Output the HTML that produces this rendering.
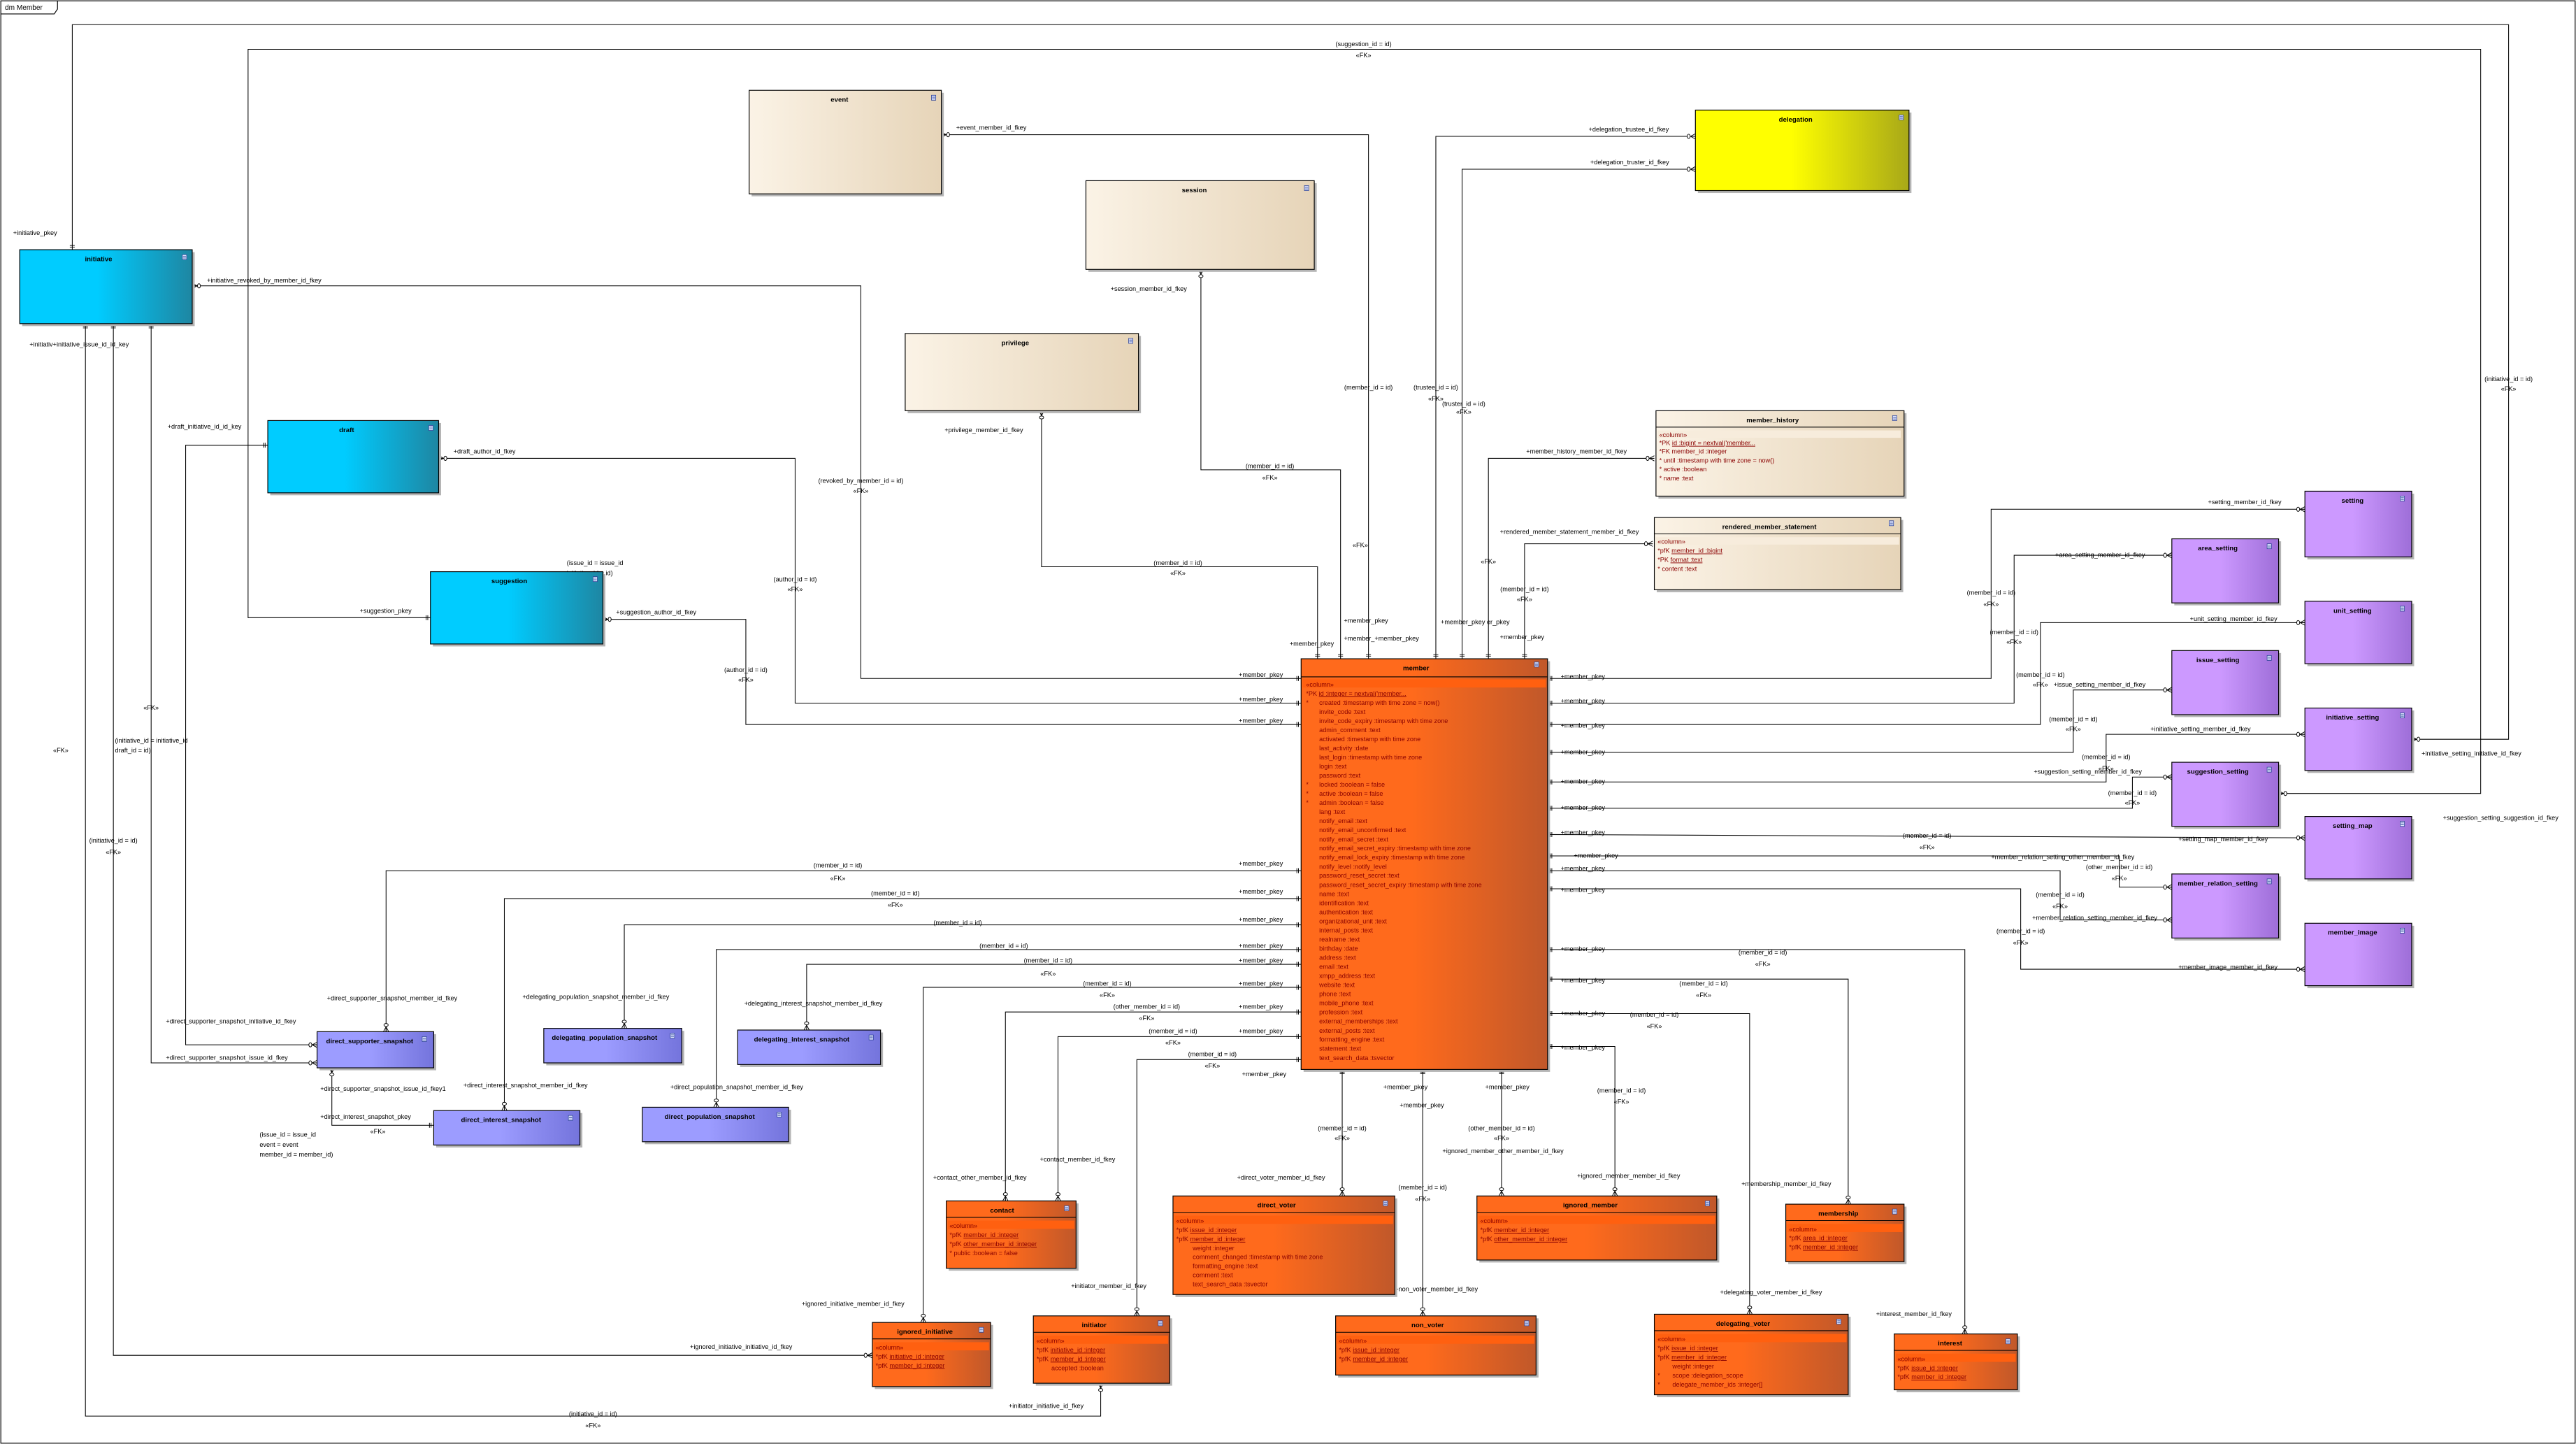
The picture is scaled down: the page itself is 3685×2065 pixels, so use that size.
<!DOCTYPE html>
<html><head><meta charset="utf-8"><style>
html,body{margin:0;padding:0;background:#fff;}
svg{display:block;}
text{font-family:"Liberation Sans",sans-serif;font-size:3.9px;fill:#000;}
.t{font-weight:bold;font-size:4.1px;text-anchor:middle;}
.r{fill:#8a0000;font-size:3.9px;}
.m{text-anchor:middle;}
.c{fill:none;stroke:#000;stroke-width:0.45;marker-start:url(#one);marker-end:url(#many);}
.n{fill:none;stroke:#000;stroke-width:0.45;}
.sh{fill:#b5b5b5;}
.bx{stroke:#000;stroke-width:0.5;}
</style></head><body>
<svg width="3685" height="2065" viewBox="0 0 3685 2065" xmlns="http://www.w3.org/2000/svg">
<defs>
<linearGradient id="gBlue" x1="0" x2="1"><stop offset="0.45" stop-color="#00ccff"/><stop offset="1" stop-color="#1e86a2"/></linearGradient>
<linearGradient id="gLav" x1="0" x2="1"><stop offset="0.45" stop-color="#9c9cff"/><stop offset="1" stop-color="#7474dc"/></linearGradient>
<linearGradient id="gPur" x1="0" x2="1"><stop offset="0.45" stop-color="#cc99ff"/><stop offset="1" stop-color="#9e6ed8"/></linearGradient>
<linearGradient id="gOr" x1="0" x2="1"><stop offset="0.45" stop-color="#ff6a1c"/><stop offset="1" stop-color="#c0582a"/></linearGradient>
<linearGradient id="gBe" x1="0" x2="1"><stop offset="0" stop-color="#fbf3e6"/><stop offset="1" stop-color="#e6d4b8"/></linearGradient>
<linearGradient id="gYe" x1="0" x2="1"><stop offset="0.45" stop-color="#ffff00"/><stop offset="1" stop-color="#a8a818"/></linearGradient>
<marker id="many" markerUnits="userSpaceOnUse" viewBox="-6 -3 7 6" refX="0" refY="0" markerWidth="7" markerHeight="6" orient="auto">
<path d="M-3,0 L0,-1.6 M-3,0 L0,1.6 M-3,0 L0,0" stroke="#000" stroke-width="0.4" fill="none"/>
<ellipse cx="-4.1" cy="0" rx="0.9" ry="1.3" fill="#fff" stroke="#000" stroke-width="0.4"/>
</marker>
<marker id="one" markerUnits="userSpaceOnUse" viewBox="-1 -3 6 6" refX="0" refY="0" markerWidth="6" markerHeight="6" orient="auto">
<path d="M1.6,-1.5 L1.6,1.5 M2.6,-1.5 L2.6,1.5" stroke="#000" stroke-width="0.4"/>
</marker>
<g id="ic"><rect x="0" y="0" width="2.6" height="3" fill="#dfe6ff" stroke="#33489a" stroke-width="0.35"/><path d="M0.4,0.9H2.2M0.4,1.5H2.2M0.4,2.1H2.2" stroke="#33489a" stroke-width="0.25"/></g>
</defs>
<g transform="scale(2.3501,2.3493)">
<!-- frame -->
<rect x="0.5" y="0.5" width="1567" height="878" fill="none" stroke="#000" stroke-width="0.5"/>
<path d="M0.5,8.5 L33,8.5 L35,5.5 L35,0.5" fill="none" stroke="#000" stroke-width="0.5"/>
<text x="3" y="6" style="font-size:4.3px">dm Member</text>

<!-- connectors -->
<path class="c" d="M44,152 L44,15 L1527,15 L1527,450 L1468,450"/>
<path class="c" d="M262,376 L151,376 L151,30 L1510,30 L1510,483 L1387,483"/>
<path class="c" d="M792,413 L524,413 L524,174 L117,174"/>
<path class="c" d="M792,428 L484,428 L484,279 L267,279"/>
<path class="c" d="M792,441 L454,441 L454,377 L367,377"/>
<path class="c" d="M792,530 L235,530 L235,628"/>
<path class="c" d="M792,547 L307,547 L307,676"/>
<path class="c" d="M792,563 L380,563 L380,626"/>
<path class="c" d="M792,578 L436,578 L436,674"/>
<path class="c" d="M792,587 L491,587 L491,627"/>
<path class="c" d="M792,601 L562,601 L562,805"/>
<path class="c" d="M792,616 L612,616 L612,731"/>
<path class="c" d="M792,631 L644,631 L644,731"/>
<path class="c" d="M792,645 L692,645 L692,801"/>
<path class="c" d="M833,401 L833,82 L573,82"/>
<path class="c" d="M816,401 L816,286 L731,286 L731,164"/>
<path class="c" d="M802,401 L802,345 L634,345 L634,250"/>
<path class="c" d="M874,401 L874,83 L1032,83"/>
<path class="c" d="M890,401 L890,103 L1032,103"/>
<path class="c" d="M906,401 L906,279 L1007,279"/>
<path class="c" d="M928,401 L928,331 L1006,331"/>
<path class="c" d="M942,413 L1212,413 L1212,310 L1403,310"/>
<path class="c" d="M942,428 L1226,428 L1226,338 L1322,338"/>
<path class="c" d="M942,441 L1242,441 L1242,379 L1403,379"/>
<path class="c" d="M942,458 L1262,458 L1262,420 L1322,420"/>
<path class="c" d="M942,476 L1282,476 L1282,447 L1403,447"/>
<path class="c" d="M942,492 L1298,492 L1298,473 L1322,473"/>
<path class="c" d="M942,508 L1403,510"/>
<path class="c" d="M942,521 L1290,521 L1290,540 L1322,540"/>
<path class="c" d="M942,530 L1254,530 L1254,560 L1322,560"/>
<path class="c" d="M942,541 L1230,541 L1230,590 L1403,590"/>
<path class="c" d="M942,578 L1196,578 L1196,812"/>
<path class="c" d="M942,596 L1125,596 L1125,733"/>
<path class="c" d="M942,617 L1065,617 L1065,800"/>
<path class="c" d="M942,637 L983,637 L983,728"/>
<path class="c" d="M817,651 L817,728"/>
<path class="c" d="M866,651 L866,801"/>
<path class="c" d="M914,651 L914,728"/>
<path class="c" d="M52,197 L52,862 L670,862 L670,842"/>
<path class="c" d="M69,197 L69,825 L531,825"/>
<path class="c" d="M92,197 L92,647 L193,647"/>
<path class="c" d="M163,271 L113,271 L113,636 L193,636"/>
<path class="c" d="M264,685 L202,685 L202,650"/>

<!-- connector labels -->
<g>
<text x="830" y="28" class="m">(suggestion_id = id)</text><text x="830" y="35" class="m">«FK»</text>
<text x="8" y="143">+initiative_pkey</text>
<text x="126" y="172">+initiative_revoked_by_member_id_fkey</text>
<text x="18" y="211">+initiativ+initiative_issue_id_id_key</text>
<text x="102" y="261">+draft_initiative_id_id_key</text>
<text x="276" y="276">+draft_author_id_fkey</text>
<text x="219" y="373">+suggestion_pkey</text>
<text x="375" y="374">+suggestion_author_id_fkey</text>
<text x="345" y="344">(issue_id = issue_id</text><text x="345" y="350">initiative_id = id)</text>
<text x="524" y="294" class="m">(revoked_by_member_id = id)</text><text x="524" y="300" class="m">«FK»</text>
<text x="484" y="354" class="m">(author_id = id)</text><text x="484" y="360" class="m">«FK»</text>
<text x="454" y="409" class="m">(author_id = id)</text><text x="454" y="415" class="m">«FK»</text>
<text x="92" y="432" class="m">«FK»</text>
<text x="37" y="458" class="m">«FK»</text>
<text x="70" y="452">(initiative_id = initiative_id</text><text x="70" y="458">draft_id = id)</text>
<text x="69" y="513" class="m">(initiative_id = id)</text><text x="69" y="520" class="m">«FK»</text>
<text x="582" y="79">+event_member_id_fkey</text>
<text x="676" y="177">+session_member_id_fkey</text>
<text x="575" y="263">+privilege_member_id_fkey</text>
<text x="833" y="237" class="m">(member_id = id)</text><text x="828" y="333" class="m">«FK»</text>
<text x="773" y="285" class="m">(member_id = id)</text><text x="773" y="292" class="m">«FK»</text>
<text x="717" y="344" class="m">(member_id = id)</text><text x="717" y="350" class="m">«FK»</text>
<text x="874" y="237" class="m">(trustee_id = id)</text><text x="874" y="244" class="m">«FK»</text>
<text x="891" y="247" class="m">(truster_id = id)</text><text x="891" y="252" class="m">«FK»</text>
<text x="967" y="80">+delegation_trustee_id_fkey</text>
<text x="968" y="100">+delegation_truster_id_fkey</text>
<text x="929" y="276">+member_history_member_id_fkey</text>
<text x="913" y="325">+rendered_member_statement_member_id_fkey</text>
<text x="906" y="343" class="m">«FK»</text>
<text x="928" y="360" class="m">(member_id = id)</text><text x="928" y="366" class="m">«FK»</text>
<text x="818" y="379">+member_pkey</text><text x="785" y="393">+member_pkey</text><text x="818" y="390">+member_+member_pkey</text>
<text x="877" y="380">+member_pkey er_pkey</text><text x="913" y="389">+member_pkey</text>
<text x="754" y="412">+member_pkey</text><text x="754" y="427">+member_pkey</text><text x="754" y="440">+member_pkey</text>
<text x="754" y="527">+member_pkey</text><text x="754" y="544">+member_pkey</text><text x="754" y="561">+member_pkey</text>
<text x="754" y="577">+member_pkey</text><text x="754" y="586">+member_pkey</text><text x="754" y="600">+member_pkey</text>
<text x="754" y="614">+member_pkey</text><text x="754" y="629">+member_pkey</text><text x="756" y="655">+member_pkey</text>
<text x="510" y="528" class="m">(member_id = id)</text><text x="510" y="536" class="m">«FK»</text>
<text x="545" y="545" class="m">(member_id = id)</text><text x="545" y="552" class="m">«FK»</text>
<text x="583" y="563" class="m">(member_id = id)</text><text x="611" y="577" class="m">(member_id = id)</text>
<text x="638" y="586" class="m">(member_id = id)</text><text x="638" y="594" class="m">«FK»</text>
<text x="674" y="600" class="m">(member_id = id)</text><text x="674" y="607" class="m">«FK»</text>
<text x="698" y="614" class="m">(other_member_id = id)</text><text x="698" y="621" class="m">«FK»</text>
<text x="714" y="629" class="m">(member_id = id)</text><text x="714" y="636" class="m">«FK»</text>
<text x="738" y="643" class="m">(member_id = id)</text><text x="738" y="650" class="m">«FK»</text>
<text x="199" y="609">+direct_supporter_snapshot_member_id_fkey</text>
<text x="101" y="623">+direct_supporter_snapshot_initiative_id_fkey</text>
<text x="101" y="645">+direct_supporter_snapshot_issue_id_fkey</text>
<text x="195" y="664">+direct_supporter_snapshot_issue_id_fkey1</text>
<text x="282" y="662">+direct_interest_snapshot_member_id_fkey</text>
<text x="195" y="681">+direct_interest_snapshot_pkey</text>
<text x="230" y="690" class="m">«FK»</text>
<text x="158" y="692">(issue_id = issue_id</text><text x="158" y="698">event = event</text><text x="158" y="704">member_id = member_id)</text>
<text x="318" y="608">+delegating_population_snapshot_member_id_fkey</text>
<text x="453" y="612">+delegating_interest_snapshot_member_id_fkey</text>
<text x="408" y="663">+direct_population_snapshot_member_id_fkey</text>
<text x="568" y="718">+contact_other_member_id_fkey</text>
<text x="633" y="707">+contact_member_id_fkey</text>
<text x="488" y="795">+ignored_initiative_member_id_fkey</text>
<text x="420" y="821">+ignored_initiative_initiative_id_fkey</text>
<text x="652" y="784">+initiator_member_id_fkey</text>
<text x="614" y="857">+initiator_initiative_id_fkey</text>
<text x="361" y="862" class="m">(initiative_id = id)</text><text x="361" y="869" class="m">«FK»</text>
<text x="753" y="718">+direct_voter_member_id_fkey</text>
<text x="817" y="688" class="m">(member_id = id)</text><text x="817" y="694" class="m">«FK»</text>
<text x="866" y="724" class="m">(member_id = id)</text><text x="866" y="731" class="m">«FK»</text>
<text x="849" y="786">+non_voter_member_id_fkey</text>
<text x="914" y="688" class="m">(other_member_id = id)</text><text x="914" y="694" class="m">«FK»</text>
<text x="878" y="702">+ignored_member_other_member_id_fkey</text>
<text x="960" y="717">+ignored_member_member_id_fkey</text>
<text x="987" y="665" class="m">(member_id = id)</text><text x="987" y="672" class="m">«FK»</text>
<text x="1007" y="619" class="m">(member_id = id)</text><text x="1007" y="626" class="m">«FK»</text>
<text x="1037" y="600" class="m">(member_id = id)</text><text x="1037" y="607" class="m">«FK»</text>
<text x="1073" y="581" class="m">(member_id = id)</text><text x="1073" y="588" class="m">«FK»</text>
<text x="1060" y="722">+membership_member_id_fkey</text>
<text x="1047" y="788">+delegating_voter_member_id_fkey</text>
<text x="1142" y="801">+interest_member_id_fkey</text>
<text x="950" y="413">+member_pkey</text><text x="950" y="428">+member_pkey</text><text x="950" y="443">+member_pkey</text>
<text x="950" y="459">+member_pkey</text><text x="950" y="477">+member_pkey</text><text x="950" y="493">+member_pkey</text>
<text x="950" y="508">+member_pkey</text><text x="958" y="522">+member_pkey</text><text x="950" y="530">+member_pkey</text>
<text x="950" y="543">+member_pkey</text><text x="950" y="579">+member_pkey</text><text x="950" y="598">+member_pkey</text>
<text x="950" y="618">+member_pkey</text><text x="950" y="639">+member_pkey</text>
<text x="842" y="663">+member_pkey</text><text x="852" y="674">+member_pkey</text><text x="904" y="663">+member_pkey</text>
<text x="871" y="493">(member_id = id)</text>
<text x="1344" y="307">+setting_member_id_fkey</text>
<text x="1251" y="339">+area_setting_member_id_fkey</text>
<text x="1333" y="378">+unit_setting_member_id_fkey</text>
<text x="1250" y="418">+issue_setting_member_id_fkey</text>
<text x="1309" y="445">+initiative_setting_member_id_fkey</text>
<text x="1238" y="471">+suggestion_setting_member_id_fkey</text>
<text x="1326" y="512">+setting_map_member_id_fkey</text>
<text x="1212" y="523">+member_relation_setting_other_member_id_fkey</text>
<text x="1237" y="560">+member_relation_setting_member_id_fkey</text>
<text x="1326" y="590">+member_image_member_id_fkey</text>
<text x="1474" y="460">+initiative_setting_initiative_id_fkey</text>
<text x="1487" y="499">+suggestion_setting_suggestion_id_fkey</text>
<text x="1527" y="232" class="m">(initiative_id = id)</text><text x="1527" y="238" class="m">«FK»</text>
<text x="1212" y="362" class="m">(member_id = id)</text><text x="1212" y="369" class="m">«FK»</text>
<text x="1226" y="386" class="m">(member_id = id)</text><text x="1226" y="392" class="m">«FK»</text>
<text x="1242" y="412" class="m">(member_id = id)</text><text x="1242" y="418" class="m">«FK»</text>
<text x="1262" y="439" class="m">(member_id = id)</text><text x="1262" y="445" class="m">«FK»</text>
<text x="1282" y="462" class="m">(member_id = id)</text><text x="1282" y="469" class="m">«FK»</text>
<text x="1298" y="484" class="m">(member_id = id)</text><text x="1298" y="490" class="m">«FK»</text>
<text x="1173" y="510" class="m">(member_id = id)</text><text x="1173" y="517" class="m">«FK»</text>
<text x="1290" y="529" class="m">(other_member_id = id)</text><text x="1290" y="536" class="m">«FK»</text>
<text x="1254" y="546" class="m">(member_id = id)</text><text x="1254" y="553" class="m">«FK»</text>
<text x="1230" y="568" class="m">(member_id = id)</text><text x="1230" y="575" class="m">«FK»</text>
</g>

<!-- boxes: blue -->
<rect class="sh" x="13.5" y="153.5" width="105" height="45"/><rect class="bx" x="12" y="152" width="105" height="45" fill="url(#gBlue)"/><text class="t" x="60" y="159">initiative</text><use href="#ic" x="111" y="155"/>
<rect class="sh" x="164.5" y="257.5" width="104" height="44"/><rect class="bx" x="163" y="256" width="104" height="44" fill="url(#gBlue)"/><text class="t" x="211" y="263">draft</text><use href="#ic" x="261" y="259"/>
<rect class="sh" x="263.5" y="349.5" width="105" height="44"/><rect class="bx" x="262" y="348" width="105" height="44" fill="url(#gBlue)"/><text class="t" x="310" y="355">suggestion</text><use href="#ic" x="361" y="351"/>

<!-- beige -->
<rect class="sh" x="457.5" y="56.5" width="117" height="63"/><rect class="bx" x="456" y="55" width="117" height="63" fill="url(#gBe)"/><text class="t" x="511" y="62">event</text><use href="#ic" x="567" y="58"/>
<rect class="sh" x="662.5" y="111.5" width="139" height="54"/><rect class="bx" x="661" y="110" width="139" height="54" fill="url(#gBe)"/><text class="t" x="727" y="117">session</text><use href="#ic" x="794" y="113"/>
<rect class="sh" x="552.5" y="204.5" width="142" height="47"/><rect class="bx" x="551" y="203" width="142" height="47" fill="url(#gBe)"/><text class="t" x="618" y="210">privilege</text><use href="#ic" x="687" y="206"/>
<rect class="sh" x="1033.5" y="68.5" width="130" height="49"/><rect class="bx" x="1032" y="67" width="130" height="49" fill="url(#gYe)"/><text class="t" x="1093" y="74">delegation</text><use href="#ic" x="1156" y="70"/>

<!-- member_history -->
<rect class="sh" x="1009.5" y="251.5" width="151" height="52"/><rect class="bx" x="1008" y="250" width="151" height="52" fill="url(#gBe)"/>
<text class="t" x="1079" y="257">member_history</text><use href="#ic" x="1152" y="253"/><line x1="1008" y1="260" x2="1159" y2="260" stroke="#000" stroke-width="0.45"/>
<rect x="1009" y="262" width="148" height="4.5" fill="#f7ecdc"/>
<text class="r" x="1010" y="266">«column»</text>
<text class="r" x="1010" y="271">*PK  <tspan text-decoration="underline">id  :bigint = nextval('member...</tspan></text>
<text class="r" x="1010" y="276">*FK  member_id  :integer</text>
<text class="r" x="1010" y="281.5">*       until  :timestamp with time zone = now()</text>
<text class="r" x="1010" y="287">*       active  :boolean</text>
<text class="r" x="1010" y="292.5">*       name  :text</text>
<!-- rms -->
<rect class="sh" x="1008.5" y="316.5" width="150" height="44"/><rect class="bx" x="1007" y="315" width="150" height="44" fill="url(#gBe)"/>
<text class="t" x="1077" y="322">rendered_member_statement</text><use href="#ic" x="1150" y="317"/><line x1="1007" y1="325" x2="1157" y2="325" stroke="#000" stroke-width="0.45"/>
<rect x="1008" y="327" width="148" height="4.5" fill="#f7ecdc"/>
<text class="r" x="1009" y="331">«column»</text>
<text class="r" x="1009" y="336.5">*pfK <tspan text-decoration="underline">member_id  :bigint</tspan></text>
<text class="r" x="1009" y="342">*PK  <tspan text-decoration="underline">format  :text</tspan></text>
<text class="r" x="1009" y="347.5">*       content  :text</text>

<!-- member -->
<rect class="sh" x="793.5" y="402.5" width="150" height="250"/><rect class="bx" x="792" y="401" width="150" height="250" fill="url(#gOr)"/>
<text class="t" x="862" y="408">member</text><use href="#ic" x="934" y="403"/><line x1="792" y1="412" x2="942" y2="412" stroke="#000" stroke-width="0.5"/>
<rect x="793" y="413.5" width="148" height="5" fill="#ff6010"/>
<g class="r">
<text class="r" x="795" y="418">«column»</text>
<text class="r" x="795" y="423.5">*PK  <tspan text-decoration="underline">id  :integer = nextval('member...</tspan></text>
<text class="r" x="795" y="429">*</text><text class="r" x="803" y="429">created  :timestamp with time zone = now()</text>
<text class="r" x="803" y="434.6">invite_code  :text</text>
<text class="r" x="803" y="440.1">invite_code_expiry  :timestamp with time zone</text>
<text class="r" x="803" y="445.6">admin_comment  :text</text>
<text class="r" x="803" y="451.2">activated  :timestamp with time zone</text>
<text class="r" x="803" y="456.7">last_activity  :date</text>
<text class="r" x="803" y="462.3">last_login  :timestamp with time zone</text>
<text class="r" x="803" y="467.8">login  :text</text>
<text class="r" x="803" y="473.4">password  :text</text>
<text class="r" x="795" y="478.9">*</text><text class="r" x="803" y="478.9">locked  :boolean = false</text>
<text class="r" x="795" y="484.4">*</text><text class="r" x="803" y="484.4">active  :boolean = false</text>
<text class="r" x="795" y="490">*</text><text class="r" x="803" y="490">admin  :boolean = false</text>
<text class="r" x="803" y="495.5">lang  :text</text>
<text class="r" x="803" y="501.1">notify_email  :text</text>
<text class="r" x="803" y="506.6">notify_email_unconfirmed  :text</text>
<text class="r" x="803" y="512.2">notify_email_secret  :text</text>
<text class="r" x="803" y="517.7">notify_email_secret_expiry  :timestamp with time zone</text>
<text class="r" x="803" y="523.2">notify_email_lock_expiry  :timestamp with time zone</text>
<text class="r" x="803" y="528.8">notify_level  :notify_level</text>
<text class="r" x="803" y="534.3">password_reset_secret  :text</text>
<text class="r" x="803" y="539.9">password_reset_secret_expiry  :timestamp with time zone</text>
<text class="r" x="803" y="545.4">name  :text</text>
<text class="r" x="803" y="551">identification  :text</text>
<text class="r" x="803" y="556.5">authentication  :text</text>
<text class="r" x="803" y="562">organizational_unit  :text</text>
<text class="r" x="803" y="567.6">internal_posts  :text</text>
<text class="r" x="803" y="573.1">realname  :text</text>
<text class="r" x="803" y="578.7">birthday  :date</text>
<text class="r" x="803" y="584.2">address  :text</text>
<text class="r" x="803" y="589.8">email  :text</text>
<text class="r" x="803" y="595.3">xmpp_address  :text</text>
<text class="r" x="803" y="600.8">website  :text</text>
<text class="r" x="803" y="606.4">phone  :text</text>
<text class="r" x="803" y="611.9">mobile_phone  :text</text>
<text class="r" x="803" y="617.5">profession  :text</text>
<text class="r" x="803" y="623">external_memberships  :text</text>
<text class="r" x="803" y="628.6">external_posts  :text</text>
<text class="r" x="803" y="634.1">formatting_engine  :text</text>
<text class="r" x="803" y="639.6">statement  :text</text>
<text class="r" x="803" y="645.2">text_search_data  :tsvector</text>
</g>

<!-- lavender -->
<rect class="sh" x="194.5" y="629.5" width="71" height="22"/><rect class="bx" x="193" y="628" width="71" height="22" fill="url(#gLav)"/><text class="t" x="225" y="635">direct_supporter_snapshot</text><use href="#ic" x="257" y="631"/>
<rect class="sh" x="332.5" y="627.5" width="84" height="21"/><rect class="bx" x="331" y="626" width="84" height="21" fill="url(#gLav)"/><text class="t" x="368" y="633">delegating_population_snapshot</text><use href="#ic" x="408" y="629"/>
<rect class="sh" x="450.5" y="628.5" width="87" height="21"/><rect class="bx" x="449" y="627" width="87" height="21" fill="url(#gLav)"/><text class="t" x="488" y="634">delegating_interest_snapshot</text><use href="#ic" x="529" y="630"/>
<rect class="sh" x="265.5" y="677.5" width="89" height="21"/><rect class="bx" x="264" y="676" width="89" height="21" fill="url(#gLav)"/><text class="t" x="305" y="683">direct_interest_snapshot</text><use href="#ic" x="346" y="679"/>
<rect class="sh" x="392.5" y="675.5" width="89" height="21"/><rect class="bx" x="391" y="674" width="89" height="21" fill="url(#gLav)"/><text class="t" x="432" y="681">direct_population_snapshot</text><use href="#ic" x="473" y="677"/>

<!-- purple -->
<rect class="sh" x="1404.5" y="300.5" width="65" height="40"/><rect class="bx" x="1403" y="299" width="65" height="40" fill="url(#gPur)"/><text class="t" x="1432" y="306">setting</text><use href="#ic" x="1461" y="302"/>
<rect class="sh" x="1323.5" y="329.5" width="65" height="39"/><rect class="bx" x="1322" y="328" width="65" height="39" fill="url(#gPur)"/><text class="t" x="1350" y="335">area_setting</text><use href="#ic" x="1380" y="331"/>
<rect class="sh" x="1404.5" y="367.5" width="65" height="38"/><rect class="bx" x="1403" y="366" width="65" height="38" fill="url(#gPur)"/><text class="t" x="1432" y="373">unit_setting</text><use href="#ic" x="1461" y="369"/>
<rect class="sh" x="1323.5" y="397.5" width="65" height="39"/><rect class="bx" x="1322" y="396" width="65" height="39" fill="url(#gPur)"/><text class="t" x="1350" y="403">issue_setting</text><use href="#ic" x="1380" y="399"/>
<rect class="sh" x="1404.5" y="432.5" width="65" height="38"/><rect class="bx" x="1403" y="431" width="65" height="38" fill="url(#gPur)"/><text class="t" x="1432" y="438">initiative_setting</text><use href="#ic" x="1461" y="434"/>
<rect class="sh" x="1323.5" y="465.5" width="65" height="39"/><rect class="bx" x="1322" y="464" width="65" height="39" fill="url(#gPur)"/><text class="t" x="1350" y="471">suggestion_setting</text><use href="#ic" x="1380" y="467"/>
<rect class="sh" x="1404.5" y="498.5" width="65" height="38"/><rect class="bx" x="1403" y="497" width="65" height="38" fill="url(#gPur)"/><text class="t" x="1432" y="504">setting_map</text><use href="#ic" x="1461" y="500"/>
<rect class="sh" x="1323.5" y="533.5" width="65" height="39"/><rect class="bx" x="1322" y="532" width="65" height="39" fill="url(#gPur)"/><text class="t" x="1350" y="539">member_relation_setting</text><use href="#ic" x="1380" y="535"/>
<rect class="sh" x="1404.5" y="563.5" width="65" height="38"/><rect class="bx" x="1403" y="562" width="65" height="38" fill="url(#gPur)"/><text class="t" x="1432" y="569">member_image</text><use href="#ic" x="1461" y="565"/>

<!-- orange small tables -->
<g>
<rect class="sh" x="577.5" y="732.5" width="79" height="41"/><rect class="bx" x="576" y="731" width="79" height="41" fill="url(#gOr)"/><text class="t" x="610" y="738">contact</text><use href="#ic" x="648" y="734"/><line x1="576" y1="741" x2="655" y2="741" stroke="#000" stroke-width="0.45"/>
<rect x="577" y="743" width="77" height="5" fill="#ff6010"/>
<text class="r" x="578" y="747.5">«column»</text><text class="r" x="578" y="753">*pfK <tspan text-decoration="underline">member_id  :integer</tspan></text><text class="r" x="578" y="758.5">*pfK <tspan text-decoration="underline">other_member_id  :integer</tspan></text><text class="r" x="578" y="764">*       public  :boolean = false</text>

<rect class="sh" x="715.5" y="729.5" width="135" height="60"/><rect class="bx" x="714" y="728" width="135" height="60" fill="url(#gOr)"/><text class="t" x="777" y="735">direct_voter</text><use href="#ic" x="842" y="731"/><line x1="714" y1="738" x2="849" y2="738" stroke="#000" stroke-width="0.45"/>
<rect x="715" y="740" width="133" height="5" fill="#ff6010"/>
<text class="r" x="716" y="744.5">«column»</text><text class="r" x="716" y="750">*pfK <tspan text-decoration="underline">issue_id  :integer</tspan></text><text class="r" x="716" y="755.5">*pfK <tspan text-decoration="underline">member_id  :integer</tspan></text>
<text class="r" x="726" y="761">weight  :integer</text><text class="r" x="726" y="766.5">comment_changed  :timestamp with time zone</text><text class="r" x="726" y="772">formatting_engine  :text</text><text class="r" x="726" y="777.5">comment  :text</text><text class="r" x="726" y="783">text_search_data  :tsvector</text>

<rect class="sh" x="900.5" y="729.5" width="146" height="39"/><rect class="bx" x="899" y="728" width="146" height="39" fill="url(#gOr)"/><text class="t" x="968" y="735">ignored_member</text><use href="#ic" x="1038" y="731"/><line x1="899" y1="738" x2="1045" y2="738" stroke="#000" stroke-width="0.45"/>
<rect x="900" y="740" width="144" height="5" fill="#ff6010"/>
<text class="r" x="901" y="744.5">«column»</text><text class="r" x="901" y="750">*pfK <tspan text-decoration="underline">member_id  :integer</tspan></text><text class="r" x="901" y="755.5">*pfK <tspan text-decoration="underline">other_member_id  :integer</tspan></text>

<rect class="sh" x="1088.5" y="734.5" width="72" height="35"/><rect class="bx" x="1087" y="733" width="72" height="35" fill="url(#gOr)"/><text class="t" x="1119" y="740">membership</text><use href="#ic" x="1152" y="736"/><line x1="1087" y1="743" x2="1159" y2="743" stroke="#000" stroke-width="0.45"/>
<rect x="1088" y="745" width="70" height="5" fill="#ff6010"/>
<text class="r" x="1089" y="749.5">«column»</text><text class="r" x="1089" y="755">*pfK <tspan text-decoration="underline">area_id  :integer</tspan></text><text class="r" x="1089" y="760.5">*pfK <tspan text-decoration="underline">member_id  :integer</tspan></text>

<rect class="sh" x="532.5" y="806.5" width="72" height="39"/><rect class="bx" x="531" y="805" width="72" height="39" fill="url(#gOr)"/><text class="t" x="563" y="812">ignored_initiative</text><use href="#ic" x="596" y="808"/><line x1="531" y1="815" x2="603" y2="815" stroke="#000" stroke-width="0.45"/>
<rect x="532" y="817" width="70" height="5" fill="#ff6010"/>
<text class="r" x="533" y="821.5">«column»</text><text class="r" x="533" y="827">*pfK <tspan text-decoration="underline">initiative_id  :integer</tspan></text><text class="r" x="533" y="832.5">*pfK <tspan text-decoration="underline">member_id  :integer</tspan></text>

<rect class="sh" x="630.5" y="802.5" width="83" height="41"/><rect class="bx" x="629" y="801" width="83" height="41" fill="url(#gOr)"/><text class="t" x="666" y="808">initiator</text><use href="#ic" x="705" y="804"/><line x1="629" y1="811" x2="712" y2="811" stroke="#000" stroke-width="0.45"/>
<rect x="630" y="813" width="81" height="5" fill="#ff6010"/>
<text class="r" x="631" y="817.5">«column»</text><text class="r" x="631" y="823">*pfK <tspan text-decoration="underline">initiative_id  :integer</tspan></text><text class="r" x="631" y="828.5">*pfK <tspan text-decoration="underline">member_id  :integer</tspan></text><text class="r" x="640" y="834">accepted  :boolean</text>

<rect class="sh" x="814.5" y="802.5" width="122" height="36"/><rect class="bx" x="813" y="801" width="122" height="36" fill="url(#gOr)"/><text class="t" x="869" y="808">non_voter</text><use href="#ic" x="928" y="804"/><line x1="813" y1="811" x2="935" y2="811" stroke="#000" stroke-width="0.45"/>
<rect x="814" y="813" width="120" height="5" fill="#ff6010"/>
<text class="r" x="815" y="817.5">«column»</text><text class="r" x="815" y="823">*pfK <tspan text-decoration="underline">issue_id  :integer</tspan></text><text class="r" x="815" y="828.5">*pfK <tspan text-decoration="underline">member_id  :integer</tspan></text>

<rect class="sh" x="1008.5" y="801.5" width="118" height="49"/><rect class="bx" x="1007" y="800" width="118" height="49" fill="url(#gOr)"/><text class="t" x="1061" y="807">delegating_voter</text><use href="#ic" x="1118" y="803"/><line x1="1007" y1="810" x2="1125" y2="810" stroke="#000" stroke-width="0.45"/>
<rect x="1008" y="812" width="116" height="5" fill="#ff6010"/>
<text class="r" x="1009" y="816.5">«column»</text><text class="r" x="1009" y="822">*pfK <tspan text-decoration="underline">issue_id  :integer</tspan></text><text class="r" x="1009" y="827.5">*pfK <tspan text-decoration="underline">member_id  :integer</tspan></text>
<text class="r" x="1018" y="833">weight  :integer</text><text class="r" x="1009" y="838.5">*</text><text class="r" x="1018" y="838.5">scope  :delegation_scope</text><text class="r" x="1009" y="844">*</text><text class="r" x="1018" y="844">delegate_member_ids  :integer[]</text>

<rect class="sh" x="1154.5" y="813.5" width="75" height="34"/><rect class="bx" x="1153" y="812" width="75" height="34" fill="url(#gOr)"/><text class="t" x="1187" y="819">interest</text><use href="#ic" x="1221" y="815"/><line x1="1153" y1="822" x2="1228" y2="822" stroke="#000" stroke-width="0.45"/>
<rect x="1154" y="824" width="73" height="5" fill="#ff6010"/>
<text class="r" x="1155" y="828.5">«column»</text><text class="r" x="1155" y="834">*pfK <tspan text-decoration="underline">issue_id  :integer</tspan></text><text class="r" x="1155" y="839.5">*pfK <tspan text-decoration="underline">member_id  :integer</tspan></text>
</g>
</g>
</svg>
</body></html>
